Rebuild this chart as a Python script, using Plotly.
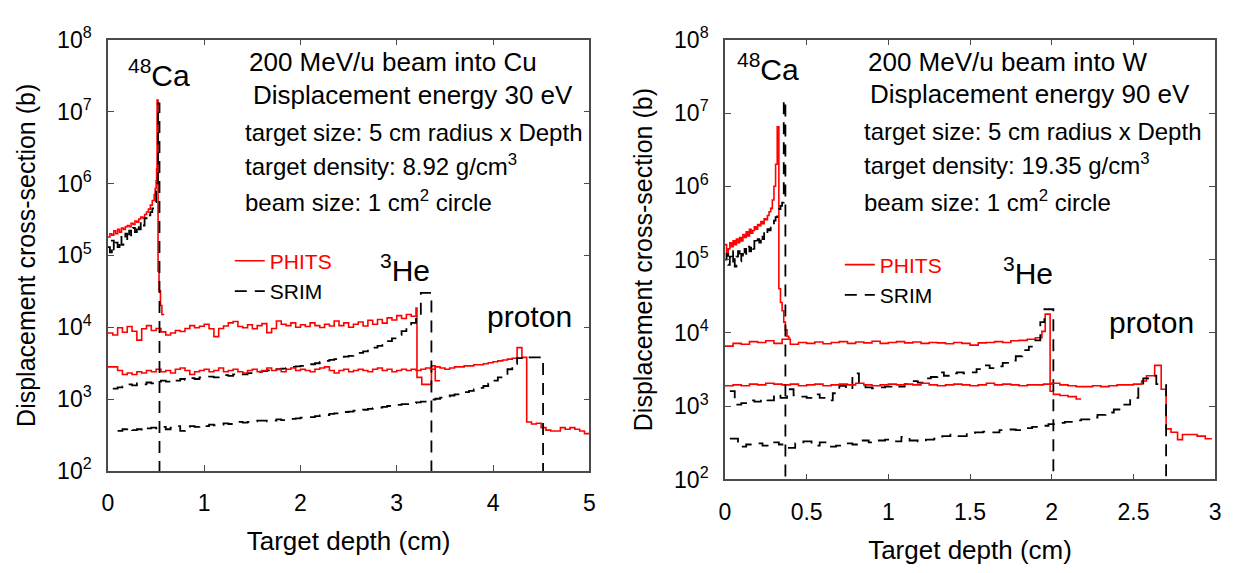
import numpy as np
import plotly.graph_objects as go

W, H = 1234, 573
FONT = "Liberation Sans, Arial, Helvetica, sans-serif"


def bins(start, stop, step):
    return np.round(np.arange(start, stop + step / 2, step), 3).tolist()


# ---------------- Cu panel (left) ----------------
cu_ca_phits_x = bins(0.00, 0.48, 0.02) + [0.49, 0.50, 0.505, 0.51, 0.52, 0.53, 0.545, 0.56]
cu_ca_phits_y = [1.8e5, 2.0e5, 1.9e5, 2.2e5, 2.0e5, 2.3e5, 2.1e5, 2.4e5, 2.3e5, 2.5e5,
                 2.6e5, 2.5e5, 2.8e5, 2.7e5, 3.0e5, 2.9e5, 3.2e5, 3.4e5, 3.3e5, 3.7e5,
                 4.0e5, 4.4e5, 5.0e5, 5.8e5, 7.0e5,
                 8.5e5, 1.1e6, 1.6e6, 1.45e7, 6.0e4, 3.2e4, 2.0e4, 1.5e4]
cu_ca_phits_end = 0.585

cu_ca_srim_x = bins(0.00, 0.50, 0.02) + [0.51, 0.52]
cu_ca_srim_y = [1.3e5, 1.1e5, 1.6e5, 1.2e5, 1.5e5, 1.3e5, 1.8e5, 1.4e5, 1.7e5, 2.0e5,
                1.6e5, 2.2e5, 1.9e5, 2.4e5, 2.1e5, 2.7e5, 2.3e5, 3.0e5, 2.6e5, 3.3e5,
                3.1e5, 3.6e5, 4.0e5, 4.5e5, 5.5e5, 8.0e5, 1.0e6, 1.3e7]
cu_ca_srim_end = 0.535

cu_he_phits_x = bins(0.00, 3.20, 0.05) + [3.21, 3.26, 3.31, 3.36, 3.40]
cu_he_phits_y = [v * 1e3 for v in [
    8.3, 7.8, 9.8, 8.5, 10.2, 8.8, 6.6, 9.5, 10.5, 9.0,
    9.6, 8.6, 7.8, 8.3, 9.0, 8.7, 9.6, 10.5, 9.8, 10.3,
    11.0, 9.5, 7.4, 9.6, 10.4, 11.5, 12.0, 10.2, 9.8, 10.8,
    9.5, 10.5, 11.2, 8.4, 9.6, 12.2, 11.0, 10.5, 11.5, 10.0,
    10.8, 10.2, 11.5, 10.5, 9.9, 11.0, 10.4, 12.2, 10.5, 11.5,
    10.0, 11.0, 11.8, 10.4, 12.5, 11.0, 12.8, 11.4, 13.5, 12.6,
    14.5, 13.2, 15.0, 14.2, 18.5,
    2.0, 1.6, 1.6, 2.9, 1.8]]
cu_he_phits_end = 3.45

cu_he_srim_x = bins(0.05, 3.25, 0.05)
cu_he_srim_y = [v * 1e3 for v in [
    1.4, 1.45, 1.5, 1.6, 1.55, 1.65, 1.6, 1.7, 1.65, 1.7,
    1.8, 1.75, 1.85, 1.8, 1.9, 1.85, 1.95, 1.9, 2.0, 2.0,
    2.05, 2.0, 2.1, 2.15, 2.1, 2.2, 2.25, 2.2, 2.3, 2.35,
    2.4, 2.45, 2.5, 2.45, 2.6, 2.65, 2.7, 2.8, 2.85, 2.9,
    3.0, 3.05, 3.15, 3.3, 3.4, 3.5, 3.6, 3.75, 3.9, 4.0,
    4.2, 4.4, 4.6, 4.9, 5.2, 5.5, 5.9, 6.4, 7.0, 7.8,
    8.8, 10.0, 11.5, 14.0, 30.0]]
cu_he_srim_end = 3.36

cu_p_phits_x = bins(0.00, 4.95, 0.05)
cu_p_phits_y = [v * 1e3 for v in [
    2.8, 2.8, 2.5, 2.2, 2.3, 2.2, 2.4, 2.3, 2.5, 2.4,
    2.6, 2.4, 2.5, 2.3, 2.6, 2.7, 2.5, 2.2, 2.4, 2.5,
    2.6, 2.4, 2.5, 2.7, 2.4, 2.5, 2.6, 2.4, 2.3, 2.5,
    2.6, 2.4, 2.5, 2.7, 2.5, 2.6, 2.4, 2.6, 2.7, 2.5,
    2.6, 2.5, 2.4, 2.6, 2.7, 2.8, 2.5, 2.3, 2.5, 2.6,
    2.4, 2.5, 2.6, 2.5, 2.4, 2.6, 2.7, 2.5, 2.6, 2.4,
    2.5, 2.6, 2.5, 2.6, 2.5, 2.6, 2.7, 2.6, 2.8, 2.7,
    2.6, 2.7, 2.8, 2.8, 2.9, 2.9, 3.0, 3.0, 3.1, 3.2,
    3.3, 3.4, 3.5, 3.6, 3.7, 5.2, 3.8, 0.48, 0.45, 0.46,
    0.40, 0.37, 0.36, 0.36, 0.40, 0.38, 0.40, 0.38, 0.36, 0.33]]
cu_p_phits_end = 5.0

cu_p_srim_x = bins(0.10, 4.40, 0.05)
cu_p_srim_y = [v * 1e2 for v in [
    3.6, 3.8, 4.0, 3.7, 3.8, 3.6, 3.9, 4.0, 3.9, 4.1,
    3.8, 4.0, 4.2, 3.6, 4.1, 4.2, 4.1, 4.3, 4.2, 4.4,
    4.3, 4.4, 4.6, 4.5, 4.6, 4.8, 4.7, 4.8, 4.9, 5.0,
    5.0, 4.9, 5.0, 5.2, 5.1, 5.2, 5.3, 5.4, 5.5, 5.6,
    5.6, 5.8, 5.9, 6.0, 6.2, 6.3, 6.5, 6.6, 6.7, 6.9,
    6.9, 7.1, 7.3, 7.5, 7.6, 7.8, 8.0, 8.1, 8.3, 8.5,
    8.5, 8.8, 9.0, 9.2, 9.5, 9.8, 10.1, 10.5, 10.8, 11.2,
    11.6, 12.0, 12.5, 13.0, 13.6, 14.3, 15.2, 16.4, 18.0, 20.0,
    22.5, 26.0, 31.0, 37.0, 39.0, 38.0, 38.0]]
cu_p_srim_end = 4.52

# ---------------- W panel (right) ----------------
w_ca_phits_x = bins(0.00, 0.39, 0.01)
w_ca_phits_y = [1.6e5, 1.2e5, 1.4e5, 1.7e5, 1.5e5, 1.8e5, 1.6e5, 1.9e5, 1.7e5, 2.0e5,
                1.8e5, 2.2e5, 2.0e5, 2.4e5, 2.1e5, 2.6e5, 2.3e5, 2.5e5, 2.8e5, 2.6e5,
                3.0e5, 2.9e5, 3.3e5, 3.1e5, 3.6e5, 3.5e5, 4.0e5, 4.5e5, 5.0e5, 6.5e5,
                1.0e6, 2.0e6, 6.5e6,
                4.0e4, 2.6e4, 2.0e4, 1.4e4, 1.1e4, 9.0e3, 8.5e3]
w_ca_phits_end = 0.40

w_ca_srim_x = bins(0.00, 0.36, 0.01)
w_ca_srim_y = [1.0e5, 1.2e5, 0.85e5, 1.1e5, 0.9e5, 1.3e5, 0.8e5, 1.1e5, 1.3e5, 0.95e5,
               1.2e5, 1.05e5, 1.4e5, 1.2e5, 1.5e5, 1.3e5, 1.6e5, 1.4e5, 1.8e5, 1.6e5,
               1.9e5, 1.7e5, 2.2e5, 1.9e5, 2.4e5, 2.2e5, 2.6e5, 2.5e5, 2.9e5, 2.8e5,
               3.4e5, 3.8e5, 4.4e5, 4.9e5, 5.4e5, 6.0e5, 1.5e7]
w_ca_srim_end = 0.37

w_he_phits_x = bins(0.00, 1.90, 0.05) + [1.94, 1.96, 1.99, 2.01, 2.05, 2.10, 2.15]
w_he_phits_y = [v * 1e3 for v in [
    6.6, 7.2, 7.0, 7.6, 7.4, 7.8, 7.2, 8.2, 7.0, 7.4,
    7.2, 7.5, 7.1, 7.4, 7.6, 7.2, 7.5, 7.3, 7.7, 7.2,
    7.4, 7.6, 7.3, 7.5, 7.2, 7.4, 7.3, 7.1, 7.4, 7.2,
    6.8, 7.3, 7.4, 7.6, 7.4, 7.8, 7.9, 8.2, 8.6,
    10.5, 18.0,
    1.6, 1.45, 1.4, 1.35, 1.25]]
w_he_phits_end = 2.18

w_he_srim_x = [0.03, 0.06, 0.10, 0.14, 0.18, 0.22, 0.26, 0.30, 0.34, 0.38,
               0.42, 0.46, 0.50, 0.54, 0.58, 0.62, 0.66, 0.70, 0.74, 0.78,
               0.82, 0.86, 0.90, 0.94, 0.98, 1.02, 1.06, 1.10, 1.14, 1.18,
               1.22, 1.26, 1.30, 1.34, 1.38, 1.42, 1.46, 1.50, 1.54, 1.58,
               1.62, 1.66, 1.70, 1.74, 1.78, 1.82, 1.86, 1.90, 1.93, 1.955]
w_he_srim_y = [v * 1e3 for v in [
    1.6, 1.05, 1.1, 1.2, 1.15, 1.25, 1.2, 1.45, 1.3, 1.7,
    1.4, 1.35, 1.3, 1.45, 1.3, 1.2, 1.5, 1.9, 1.7, 2.8,
    2.1, 1.8, 1.75, 1.8, 1.85, 1.9, 1.85, 2.0, 2.2, 2.1,
    2.4, 2.5, 2.9, 2.6, 2.8, 2.9, 2.8, 2.9, 3.2, 3.6,
    3.3, 3.5, 3.9, 4.2, 4.8, 5.8, 6.5, 7.9, 14.0, 21.0]]
w_he_srim_end = 2.01

w_p_phits_x = bins(0.00, 2.50, 0.05) + [2.55, 2.58, 2.63, 2.67, 2.70, 2.73, 2.77, 2.80, 2.85, 2.89, 2.94]
w_p_phits_y = [v * 1e3 for v in [
    1.9, 1.95, 1.9, 2.0, 1.95, 2.05, 2.0, 1.95, 2.0, 1.9,
    1.95, 2.0, 1.9, 1.95, 2.0, 1.95, 2.05, 1.95, 1.9, 1.95,
    2.0, 1.95, 2.0, 1.95, 2.05, 1.95, 1.9, 1.95, 2.0, 1.95,
    1.9, 1.95, 2.05, 1.95, 2.0, 1.95, 1.9, 1.95, 1.95, 2.0,
    2.05, 1.95, 1.9, 1.85, 1.85, 1.9, 1.85, 1.9, 1.95, 1.95,
    2.0,
    2.2, 2.6, 3.6, 1.7, 0.49, 0.44, 0.35, 0.41, 0.41, 0.39, 0.36]]
w_p_phits_end = 2.98

w_p_srim_x = bins(0.03, 2.53, 0.05) + [2.56, 2.60, 2.64]
w_p_srim_y = [v * 1e2 for v in [
    3.6, 2.8, 3.0, 3.1, 2.9, 3.2, 3.0, 2.7, 3.1, 3.3,
    2.9, 3.2, 2.8, 2.9, 3.1, 3.0, 3.4, 3.2, 3.4, 3.5,
    3.3, 3.8, 3.4, 3.3, 3.5, 3.6, 3.9, 4.1, 3.9, 4.3,
    4.4, 4.5, 4.4, 4.7, 4.8, 4.7, 5.0, 5.2, 5.4, 5.7,
    5.9, 6.1, 6.4, 6.6, 7.0, 7.6, 8.2, 9.0, 10.5, 13.0,
    18.0, 24.0, 26.0, 20.0]]
w_p_srim_end = 2.70

Y_FLOOR = 1e2  # SRIM curves drop to the axis floor at the end of range

y_tickvals = [1e2, 1e3, 1e4, 1e5, 1e6, 1e7, 1e8]
y_ticktext = ["10<sup>2</sup>", "10<sup>3</sup>", "10<sup>4</sup>", "10<sup>5</sup>",
              "10<sup>6</sup>", "10<sup>7</sup>", "10<sup>8</sup>"]

RED = "#ff0000"
BLACK = "#000000"
DASH = "12px,8px"

fig = go.Figure()


def add_step(x, y, end_x, end_y, kind, xa, ya, legend, show=False):
    xs = list(x) + [end_x]
    ys = list(y) + [y[-1] if end_y is None else end_y]
    if kind == "PHITS":
        line = dict(color=RED, width=1.6, shape="hv")
        name = '<span style="color:#ff0000">PHITS</span>'
    else:
        line = dict(color=BLACK, width=1.8, shape="hv", dash=DASH)
        name = "SRIM"
    fig.add_trace(go.Scatter(x=xs, y=ys, mode="lines", line=line, name=name,
                             xaxis=xa, yaxis=ya, showlegend=show, legend=legend,
                             hoverinfo="skip"))


# left panel
add_step(cu_he_phits_x, cu_he_phits_y, cu_he_phits_end, None, "PHITS", "x", "y", "legend", True)
add_step(cu_he_srim_x, cu_he_srim_y, cu_he_srim_end, Y_FLOOR, "SRIM", "x", "y", "legend", True)
add_step(cu_ca_phits_x, cu_ca_phits_y, cu_ca_phits_end, None, "PHITS", "x", "y", "legend")
add_step(cu_p_phits_x, cu_p_phits_y, cu_p_phits_end, None, "PHITS", "x", "y", "legend")
add_step(cu_ca_srim_x, cu_ca_srim_y, cu_ca_srim_end, Y_FLOOR, "SRIM", "x", "y", "legend")
add_step(cu_p_srim_x, cu_p_srim_y, cu_p_srim_end, Y_FLOOR, "SRIM", "x", "y", "legend")

# right panel
add_step(w_he_phits_x, w_he_phits_y, w_he_phits_end, None, "PHITS", "x2", "y2", "legend2", True)
add_step(w_he_srim_x, w_he_srim_y, w_he_srim_end, Y_FLOOR, "SRIM", "x2", "y2", "legend2", True)
add_step(w_ca_phits_x, w_ca_phits_y, w_ca_phits_end, None, "PHITS", "x2", "y2", "legend2")
add_step(w_p_phits_x, w_p_phits_y, w_p_phits_end, None, "PHITS", "x2", "y2", "legend2")
add_step(w_ca_srim_x, w_ca_srim_y, w_ca_srim_end, Y_FLOOR, "SRIM", "x2", "y2", "legend2")
add_step(w_p_srim_x, w_p_srim_y, w_p_srim_end, Y_FLOOR, "SRIM", "x2", "y2", "legend2")


def px(v):
    return v / W


def py(v):
    return 1 - v / H


FRAME = "#4a4a4a"
common_x = dict(showline=True, mirror="ticks", linecolor=FRAME, linewidth=1.5,
                ticks="inside", ticklen=6, tickwidth=1.2, tickcolor=FRAME,
                showgrid=False, zeroline=False,
                tickfont=dict(family=FONT, size=23, color="black"),
                ticklabelstandoff=11,
                title=dict(text="Target depth (cm)", font=dict(family=FONT, size=26, color="black"),
                           standoff=17))
common_y = dict(type="log", range=[2, 8], showline=True, mirror="ticks", linecolor=FRAME,
                linewidth=1.5, ticks="inside", ticklen=6, tickwidth=1.2, tickcolor=FRAME,
                showgrid=False, zeroline=False, tickvals=y_tickvals, ticktext=y_ticktext,
                tickfont=dict(family=FONT, size=23, color="black"),
                ticklabelstandoff=10,
                title=dict(text="Displacement cross-section (b)",
                           font=dict(family=FONT, size=25, color="black"), standoff=14))

fig.update_layout(
    width=W, height=H, margin=dict(l=0, r=0, t=0, b=0),
    paper_bgcolor="white", plot_bgcolor="white",
    font=dict(family=FONT, color="black"),
    xaxis=dict(common_x, domain=[px(103), px(589)], range=[0, 5], tickvals=[0, 1, 2, 3, 4, 5], anchor="y"),
    yaxis=dict(common_y, domain=[py(479), py(24)], anchor="x"),
    xaxis2=dict(common_x, domain=[px(726), px(1221)], range=[0, 3],
                tickvals=[0, 0.5, 1, 1.5, 2, 2.5, 3], anchor="y2"),
    yaxis2=dict(common_y, domain=[py(488), py(24)], anchor="x2"),
    legend=dict(x=px(226), y=py(236), xanchor="left", yanchor="top",
                bgcolor="rgba(0,0,0,0)", font=dict(family=FONT, size=21, color="black"),
                itemwidth=30, tracegroupgap=0),
    legend2=dict(x=px(842), y=py(240), xanchor="left", yanchor="top",
                 bgcolor="rgba(0,0,0,0)", font=dict(family=FONT, size=21, color="black"),
                 itemwidth=30, tracegroupgap=0),
    hovermode=False,
)

# text annotations: (text, left px, baseline px, size, has_sup)
notes = [
    ("200 MeV/u beam into Cu", 243, 57, 26, False),
    ("Displacement energy 30 eV", 247, 91, 26, False),
    ("target size: 5 cm radius x Depth", 239, 130, 24, False),
    ("target density: 8.92 g/cm<sup>3</sup>", 239, 168, 24, True),
    ("beam size: 1 cm<sup>2</sup> circle", 239, 206, 24, True),
    ("<sup>48</sup>Ca", 121, 74, 30, True),
    ("<sup>3</sup>He", 376, 280, 30, True),
    ("proton", 484, 327, 30, False),
    ("200 MeV/u beam into W", 868, 57, 26, False),
    ("Displacement energy 90 eV", 870, 90, 26, False),
    ("target size: 5 cm radius x Depth", 864, 129, 24, False),
    ("target density: 19.35 g/cm<sup>3</sup>", 864, 167, 24, True),
    ("beam size: 1 cm<sup>2</sup> circle", 864, 206, 24, True),
    ("<sup>48</sup>Ca", 736, 68, 30, True),
    ("<sup>3</sup>He", 1005, 283, 30, True),
    ("proton", 1112, 333, 30, False),
]
for text, lx, base, size, sup in notes:
    cy = base - (0.51 if sup else 0.35) * size
    fig.add_annotation(text=text, x=px(lx), y=py(cy), xref="paper", yref="paper",
                       xanchor="left", yanchor="middle", showarrow=False,
                       font=dict(family=FONT, size=size, color="black"))

fig.write_html("out.html", config={"displayModeBar": False})
